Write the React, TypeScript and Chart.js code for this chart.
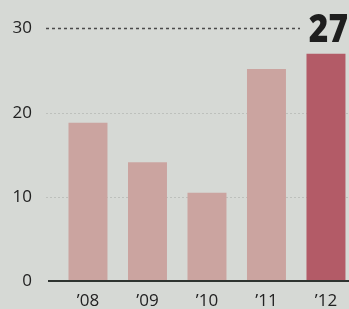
import React, { useEffect, useRef } from "react";
import { Chart, registerables } from "chart.js";

Chart.register(...registerables);

const categories = ["\u201908", "\u201909", "\u201910", "\u201911", "\u201912"];
const values = [18.8, 14.1, 10.5, 25.2, 27];
const barColors = ["#cba4a0", "#cba4a0", "#cba4a0", "#cba4a0", "#b35b67"];
const yTicks = [0, 10, 20, 30];
const highlightLabel = "27";

const FONT = "'Open Sans', 'Noto Sans', sans-serif";

const decorPlugin = {
  id: "decor",
  beforeDraw(chart: any) {
    const { ctx, width, height } = chart;
    ctx.save();
    ctx.fillStyle = "#d6d9d5";
    ctx.fillRect(0, 0, width, height);
    const y = chart.scales.y;
    ctx.strokeStyle = "rgba(170,172,168,0.55)";
    ctx.lineWidth = 1;
    ctx.setLineDash([2, 2]);
    [10, 20].forEach((v) => {
      const py = Math.round(y.getPixelForValue(v)) + 0.5;
      ctx.beginPath();
      ctx.moveTo(46, py);
      ctx.lineTo(width, py);
      ctx.stroke();
    });
    ctx.strokeStyle = "#4a4a4a";
    ctx.lineWidth = 1.5;
    ctx.setLineDash([3, 3]);
    const p30 = y.getPixelForValue(30);
    ctx.beginPath();
    ctx.moveTo(46, p30);
    ctx.lineTo(300, p30);
    ctx.stroke();
    ctx.restore();
  },
  afterDatasetsDraw(chart: any) {
    const { ctx, width } = chart;
    const y = chart.scales.y;
    ctx.save();
    ctx.strokeStyle = "#2e3330";
    ctx.lineWidth = 2;
    const p0 = y.getPixelForValue(0);
    ctx.beginPath();
    ctx.moveTo(48, p0);
    ctx.lineTo(width, p0);
    ctx.stroke();
    ctx.fillStyle = "#1e1e1e";
    ctx.font = `800 38px ${FONT}`;
    ctx.textAlign = "right";
    ctx.textBaseline = "middle";
    ctx.translate(348, y.getPixelForValue(30) + 3);
    ctx.scale(0.88, 1);
    ctx.fillText(highlightLabel, 0, 0);
    ctx.restore();
  },
};

export default function App() {
  const ref = useRef<HTMLCanvasElement>(null);
  useEffect(() => {
    document.body.style.margin = "0";
    const chart = new Chart(ref.current!, {
      type: "bar",
      data: {
        datasets: [
          {
            data: values.map((v, i) => ({ x: i, y: v })),
            backgroundColor: barColors,
            borderWidth: 0,
            barPercentage: 0.655,
            categoryPercentage: 1,
          },
        ],
      },
      options: {
        animation: false,
        responsive: false,
        layout: { padding: { top: 28.5, right: 0, bottom: 0, left: 0 } },
        plugins: { legend: { display: false }, tooltip: { enabled: false } },
        scales: {
          x: {
            type: "linear",
            offset: false,
            min: -0.941,
            max: 4.387,
            afterBuildTicks: (s: any) => {
              s.ticks = categories.map((_, i) => ({ value: i }));
            },
            afterFit: (s: any) => {
              s.height = 28;
            },
            grid: { display: false, drawTicks: false },
            border: { display: false },
            ticks: {
              color: "#222",
              font: { family: FONT, size: 17, weight: "500" },
              padding: 10,
              maxRotation: 0,
              autoSkip: false,
              callback: (v: any) => categories[Math.round(Number(v))] ?? "",
            },
          },
          y: {
            min: 0,
            max: 30,
            afterBuildTicks: (s: any) => {
              s.ticks = yTicks.map((v) => ({ value: v }));
            },
            afterFit: (s: any) => {
              s.width = 32;
            },
            grid: { display: false, drawTicks: false },
            border: { display: false },
            ticks: {
              color: "#222",
              font: { family: FONT, size: 17, weight: "500" },
              padding: 0,
            },
          },
        },
      },
      plugins: [decorPlugin],
    });
    return () => chart.destroy();
  }, []);
  return <canvas ref={ref} width={349} height={309} style={{ display: "block" }} />;
}
